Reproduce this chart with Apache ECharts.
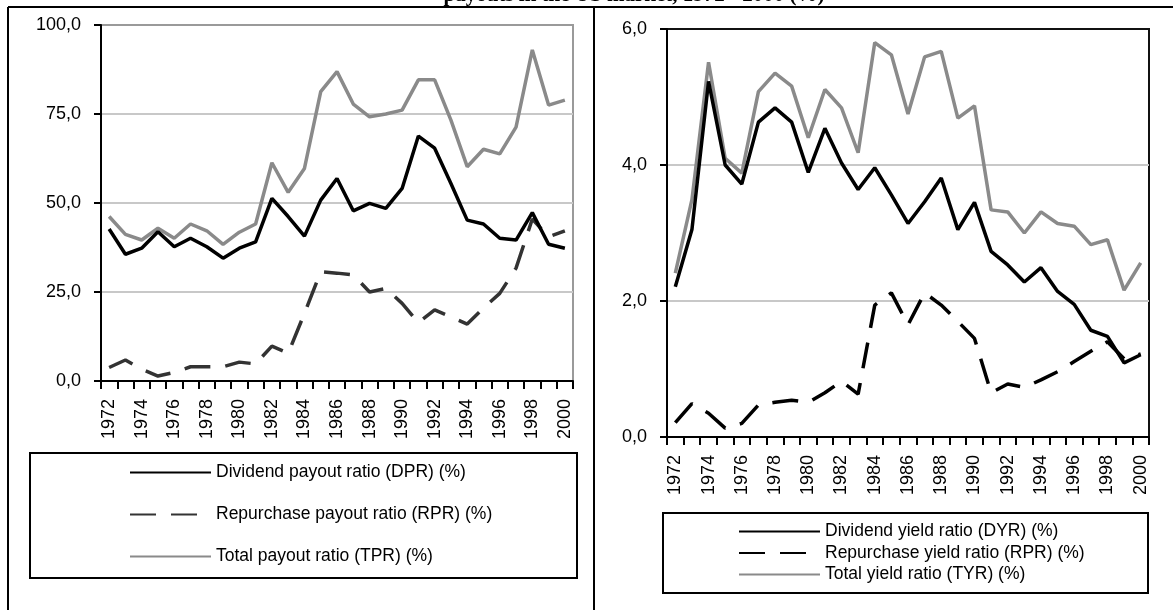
<!DOCTYPE html>
<html>
<head>
<meta charset="utf-8">
<script src="https://cdn.jsdelivr.net/npm/echarts@6/dist/echarts.min.js"></script>
<style>
  html, body { margin: 0; padding: 0; background: #ffffff; }
  #chart { width: 1173px; height: 610px; }
</style>
</head>
<body>
<div id="chart"></div>
<script>
// years on both x axes
const years = ['1972','1973','1974','1975','1976','1977','1978','1979','1980','1981','1982','1983','1984','1985','1986',
  '1987','1988','1989','1990','1991','1992','1993','1994','1995','1996','1997','1998','1999','2000'];

// left panel: payout ratios (%)
const dpr = [42.7,35.6,37.3,41.9,37.7,40.1,37.7,34.5,37.3,39.1,51.3,46.2,40.7,50.8,56.9,47.8,49.9,48.5,54.1,68.8,65.4,55.5,45.2,44.1,40.1,39.6,47.3,38.4,37.3];
const rpr = [3.8,5.9,3.3,1.4,2.4,4.0,4.0,4.0,5.3,4.8,9.8,7.8,19.0,30.7,30.3,29.8,25.0,26.0,21.8,16.4,20.0,18.0,16.0,20.5,24.6,31.7,45.5,40.5,42.2];
const tpr = [46.2,41.2,39.6,42.9,40.1,44.1,42.2,38.4,41.8,44.1,61.3,53.0,59.7,81.3,86.9,77.8,74.2,75.0,76.1,84.6,84.6,73.3,60.2,65.1,63.8,71.3,93.0,77.5,78.9];

// right panel: yield ratios (%)
const dyr = [2.21,3.05,5.23,4.00,3.72,4.63,4.84,4.63,3.89,4.54,4.03,3.64,3.96,3.56,3.14,3.46,3.81,3.05,3.45,2.73,2.53,2.28,2.49,2.14,1.95,1.57,1.48,1.09,1.21];
const ryr = [0.21,0.49,0.35,0.13,0.20,0.47,0.51,0.54,0.51,0.65,0.82,0.63,1.94,2.12,1.65,2.12,1.94,1.70,1.45,0.65,0.78,0.73,0.84,0.96,1.11,1.26,1.40,1.15,1.22];
const tyr = [2.41,3.49,5.51,4.10,3.88,5.08,5.35,5.16,4.40,5.11,4.84,4.18,5.80,5.62,4.75,5.59,5.67,4.69,4.87,3.34,3.31,3.00,3.31,3.14,3.10,2.83,2.90,2.16,2.56];

const leftNames = ['Dividend payout ratio (DPR) (%)', 'Repurchase payout ratio (RPR) (%)', 'Total payout ratio (TPR) (%)'];
const rightNames = ['Dividend yield ratio (DYR) (%)', 'Repurchase yield ratio (RPR) (%)', 'Total yield ratio (TYR) (%)'];

const FONT = "'Liberation Sans', Arial, sans-serif";
const fmt = v => v.toFixed(1).replace('.', ',');

function xAxis(gridIndex) {
  return {
    type: 'category',
    gridIndex: gridIndex,
    data: years,
    boundaryGap: true,
    axisLine: { lineStyle: { color: '#000', width: 2 } },
    axisTick: { show: true, interval: 0, length: 8, lineStyle: { color: '#000', width: 2 } },
    axisLabel: { interval: 1, rotate: 90, margin: 18, color: '#000', fontSize: 18, fontFamily: FONT },
    splitLine: { show: false }
  };
}

function yAxis(gridIndex, max, interval) {
  return {
    type: 'value',
    gridIndex: gridIndex,
    min: 0,
    max: max,
    interval: interval,
    axisLine: { show: true, lineStyle: { color: '#000', width: 2 } },
    axisTick: { show: true, length: 7, lineStyle: { color: '#000', width: 2 } },
    axisLabel: { margin: 20, color: '#000', fontSize: 18, fontFamily: FONT, formatter: fmt },
    splitLine: { show: true, showMinLine: false, showMaxLine: false, lineStyle: { color: '#c8c8c8', width: 2 } }
  };
}

function line(name, data, idx, color, dashed) {
  return {
    name: name,
    type: 'line',
    xAxisIndex: idx,
    yAxisIndex: idx,
    data: data,
    symbol: 'none',
    lineStyle: { color: color, width: 3.5, type: dashed ? [26, 15] : 'solid' },
    itemStyle: { color: color }
  };
}

const legendText = { color: '#000', fontSize: 17.5, fontFamily: FONT, lineHeight: 21 };

const chart = echarts.init(document.getElementById('chart'));
chart.setOption({
  backgroundColor: '#ffffff',
  animation: false,
  grid: [
    { left: 101, right: 600, top: 25, bottom: 229, show: true, borderColor: '#9a9a9a', borderWidth: 2 },
    { left: 667, right: 24, top: 29, bottom: 173, show: true, borderColor: '#111', borderWidth: 2 }
  ],
  xAxis: [xAxis(0), xAxis(1)],
  yAxis: [yAxis(0, 100, 25), yAxis(1, 6, 2)],
  legend: [
    {
      data: leftNames, orient: 'vertical', left: 129, top: 462, padding: 0,
      itemWidth: 81, itemHeight: 14, itemGap: 21,
      itemStyle: { opacity: 0 },
      textStyle: legendText
    },
    {
      data: rightNames, orient: 'vertical', left: 738, top: 521, padding: 0,
      itemWidth: 81, itemHeight: 14, itemGap: 0.5,
      itemStyle: { opacity: 0 },
      textStyle: legendText
    }
  ],
  graphic: [
    { type: 'text', x: 634, y: -15, style: { text: 'payouts in the US market, 1972 - 2000 (%)', font: 'bold 21px "Liberation Serif", serif', fill: '#000', textAlign: 'center', textVerticalAlign: 'top' } },
    { type: 'line', shape: { x1: 8, y1: 7, x2: 1173, y2: 7 }, style: { stroke: '#000', lineWidth: 2 } },
    { type: 'line', shape: { x1: 8, y1: 7, x2: 8, y2: 610 }, style: { stroke: '#000', lineWidth: 2 } },
    { type: 'line', shape: { x1: 594, y1: 7, x2: 594, y2: 610 }, style: { stroke: '#000', lineWidth: 2 } },
    { type: 'rect', shape: { x: 30, y: 453, width: 547, height: 125 }, style: { fill: 'none', stroke: '#000', lineWidth: 2 } },
    { type: 'rect', shape: { x: 663, y: 513, width: 485, height: 80 }, style: { fill: 'none', stroke: '#000', lineWidth: 2 } }
  ],
  series: [
    line(leftNames[2], tpr, 0, '#8a8a8a', false),
    line(leftNames[1], rpr, 0, '#333333', true),
    line(leftNames[0], dpr, 0, '#000000', false),
    line(rightNames[2], tyr, 1, '#8a8a8a', false),
    line(rightNames[1], ryr, 1, '#000000', true),
    line(rightNames[0], dyr, 1, '#000000', false)
  ]
});
</script>
</body>
</html>
